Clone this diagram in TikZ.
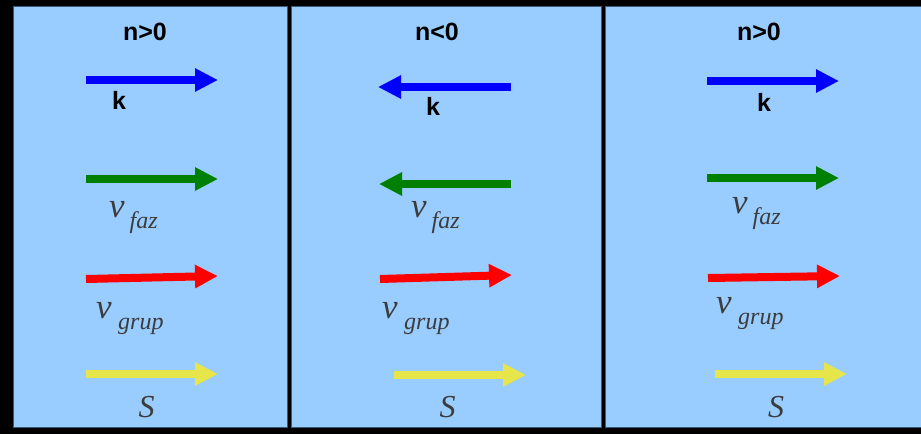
\documentclass[tikz,border=0pt]{standalone}
\usepackage{fontspec}
\setmainfont{Liberation Serif}
\setsansfont{Liberation Sans}
\usepackage{tikz}
\usetikzlibrary{arrows.meta}
\definecolor{sky}{HTML}{99CCFF}
\definecolor{edge}{HTML}{3B5A78}
\definecolor{kblue}{HTML}{0000FF}
\definecolor{fazgreen}{HTML}{008000}
\definecolor{grupred}{HTML}{FF0000}
\definecolor{syellow}{HTML}{E6E64A}
\definecolor{ink}{HTML}{3C3C3C}

\begin{document}
\begin{tikzpicture}[x=1pt,y=-1pt,
  panel/.style={fill=sky,draw=edge,line width=0.8pt},
  vec/.style={line width=8pt,-{Triangle[length=23pt,width=22pt]}},
  sign/.style={font=\sffamily\bfseries\fontsize{25}{25}\selectfont,anchor=base,inner sep=0pt},
  qty/.style={font=\itshape,text=ink,anchor=base west,inner sep=0pt}]
\newcommand{\vsub}[2]{{\fontsize{35}{35}\selectfont v}\hspace{#2}\raisebox{-11pt}{\fontsize{24}{24}\selectfont #1}}
\useasboundingbox (0,0) rectangle (921,434);
\fill[black] (0,0) rectangle (921,434);
\draw[panel] (13,6) rectangle (287,427);
\draw[panel] (291,6) rectangle (601,427);
\draw[panel] (605,6) rectangle (921.5,427);
% left panel, n>0
\node[sign] (n1) at (145,40) {n>0};
\coordinate (k1a) at (86,80);   \coordinate (k1b) at (218,80);
\coordinate (f1a) at (86,179);  \coordinate (f1b) at (218,179);
\coordinate (g1a) at (86,279);  \coordinate (g1b) at (218,276);
\coordinate (s1a) at (86,374);  \coordinate (s1b) at (218,374);
\draw[vec,kblue] (k1a)--(k1b);
\draw[vec,fazgreen] (f1a)--(f1b);
\draw[vec,grupred] (g1a)--(g1b);
\draw[vec,syellow] (s1a)--(s1b);
\node[sign] (k1) at (119,109) {k};
\node[qty] (vf1) at (109,217) {\vsub{faz}{5pt}};
\node[qty] (vg1) at (96,318) {\vsub{grup}{6.5pt}};
\node[qty,anchor=base] (S1) at (146.5,417) {\fontsize{32}{32}\selectfont S};
% middle panel, n<0
\node[sign] (n2) at (437,40) {n<0};
\coordinate (k2a) at (511,87);  \coordinate (k2b) at (378,87);
\coordinate (f2a) at (511,184); \coordinate (f2b) at (379,184);
\coordinate (g2a) at (380,279); \coordinate (g2b) at (512,275);
\coordinate (s2a) at (394,375); \coordinate (s2b) at (526,375);
\draw[vec,kblue] (k2a)--(k2b);
\draw[vec,fazgreen] (f2a)--(f2b);
\draw[vec,grupred] (g2a)--(g2b);
\draw[vec,syellow] (s2a)--(s2b);
\node[sign] (k2) at (433,115) {k};
\node[qty] (vf2) at (411,217) {\vsub{faz}{5pt}};
\node[qty] (vg2) at (382,318) {\vsub{grup}{6.5pt}};
\node[qty,anchor=base] (S2) at (447.5,417) {\fontsize{32}{32}\selectfont S};
% right panel, n>0
\node[sign] (n3) at (759,40) {n>0};
\coordinate (k3a) at (707,81);  \coordinate (k3b) at (839,81);
\coordinate (f3a) at (707,178); \coordinate (f3b) at (839,178);
\coordinate (g3a) at (708,278); \coordinate (g3b) at (840,276);
\coordinate (s3a) at (715,374); \coordinate (s3b) at (847,374);
\draw[vec,kblue] (k3a)--(k3b);
\draw[vec,fazgreen] (f3a)--(f3b);
\draw[vec,grupred] (g3a)--(g3b);
\draw[vec,syellow] (s3a)--(s3b);
\node[sign] (k3) at (764,111) {k};
\node[qty] (vf3) at (732,213) {\vsub{faz}{5pt}};
\node[qty] (vg3) at (716,313) {\vsub{grup}{6.5pt}};
\node[qty,anchor=base] (S3) at (776,417) {\fontsize{32}{32}\selectfont S};
\end{tikzpicture}
\end{document}
